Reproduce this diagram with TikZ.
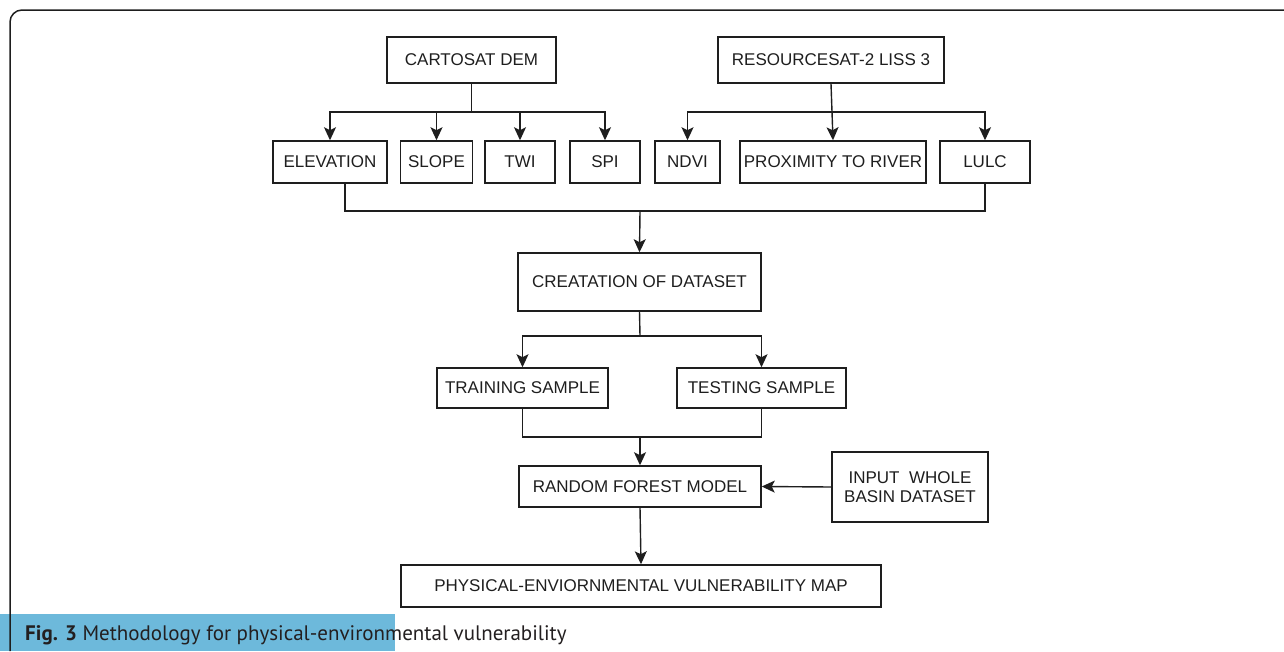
\documentclass[tikz,border=0pt]{standalone}
\usepackage{fontspec}
\setmainfont{Liberation Sans}
\newfontfamily\capfont{PT Sans}
\usetikzlibrary{arrows.meta,calc}
\definecolor{inkc}{HTML}{1E1E1E}
\definecolor{bandc}{HTML}{6DB9DB}
\definecolor{captxt}{HTML}{231F20}
\tikzset{
  box/.style={draw=inkc, line width=1.5pt, inner sep=0pt, align=center,
    font=\fontsize{17}{19}\selectfont, text=inkc},
  link/.style={draw=inkc, line width=1.4pt},
  arr/.style={link, -{Stealth[length=13pt,width=12pt,inset=3pt]}}
}
\begin{document}
\begin{tikzpicture}[x=1pt,y=-1pt]
\useasboundingbox (0,0) rectangle (1284,651);
% caption band
\fill[bandc] (0,614) rectangle (395,651);
\node[anchor=base west, inner sep=0pt, text=captxt,
  font=\capfont\fontsize{21}{23}\selectfont] (cap) at (25,640)
  {\textbf{Fig. 3} Methodology for physical-environmental vulnerability};
% outer frame, rounded at the top-left only
\draw[inkc, line width=1.5pt, rounded corners=12pt] (10,651) -- (10,10) -- (1284,10);

% sources
\node[box, minimum width=169, minimum height=46] (dem) at (471.5,60) {CARTOSAT DEM};
\node[box, minimum width=226, minimum height=46] (res) at (831,60) {RESOURCESAT-2 LISS 3};
% factors
\node[box, minimum width=114, minimum height=42] (elev)  at (330,162) {ELEVATION};
\node[box, minimum width=72,  minimum height=42] (slope) at (436.5,162) {SLOPE};
\node[box, minimum width=70,  minimum height=42] (twi)   at (520,162) {TWI};
\node[box, minimum width=70,  minimum height=42] (spi)   at (605,162) {SPI};
\node[box, minimum width=65,  minimum height=42] (ndvi)  at (687.5,162) {NDVI};
\node[box, minimum width=186, minimum height=42] (prox)  at (833,162) {PROXIMITY TO RIVER};
\node[box, minimum width=90,  minimum height=42] (lulc)  at (985,162) {LULC};
% processing
\node[box, minimum width=243, minimum height=58] (create) at (639.5,282) {CREATATION OF DATASET};
\node[box, minimum width=171, minimum height=40] (train) at (522.5,388) {TRAINING SAMPLE};
\node[box, minimum width=169, minimum height=40] (test)  at (761.5,388) {TESTING SAMPLE};
\node[box, minimum width=242, minimum height=41] (rf)    at (640,486.5) {RANDOM FOREST MODEL};
\node[box, minimum width=156, minimum height=70] (input) at (910,487) {INPUT\ \ WHOLE\\BASIN DATASET};
\node[box, minimum width=480, minimum height=42] (map)   at (641,586) {PHYSICAL-ENVIORNMENTAL VULNERABILITY MAP};

% branching from the sources
\coordinate (jdem) at (471.5,112);
\coordinate (jres) at (831,112);
\draw[link] (dem.south) -- (jdem);
\draw[arr] (jdem) -| (elev.north);
\draw[arr] (jdem) -| (slope.north);
\draw[arr] (jdem) -| (twi.north);
\draw[arr] (jdem) -| (spi.north);
\draw[arr] (res.south) -- (prox.north);
\draw[arr] (jres) -| (ndvi.north);
\draw[arr] (jres) -| (lulc.north);

% merging all factors into the dataset
\coordinate (jall) at (640,211);
\draw[link] ([xshift=15pt]elev.south) |- (jall) -| (lulc.south);
\draw[arr] (jall) -- (create.north);

% split into samples
\coordinate (jsplit) at (640,336);
\draw[link] (create.south) -- (jsplit);
\draw[arr] (jsplit) -| (train.north);
\draw[arr] (jsplit) -| (test.north);

% samples into the model
\coordinate (jmod) at (640,437);
\draw[link] (train.south) |- (jmod) -| (test.south);
\draw[arr] (jmod) -- (rf.north);
\draw[arr] (input.west) -- (rf.east);

% model output
\draw[arr] (rf.south) -- (map.north);
\end{tikzpicture}
\end{document}
